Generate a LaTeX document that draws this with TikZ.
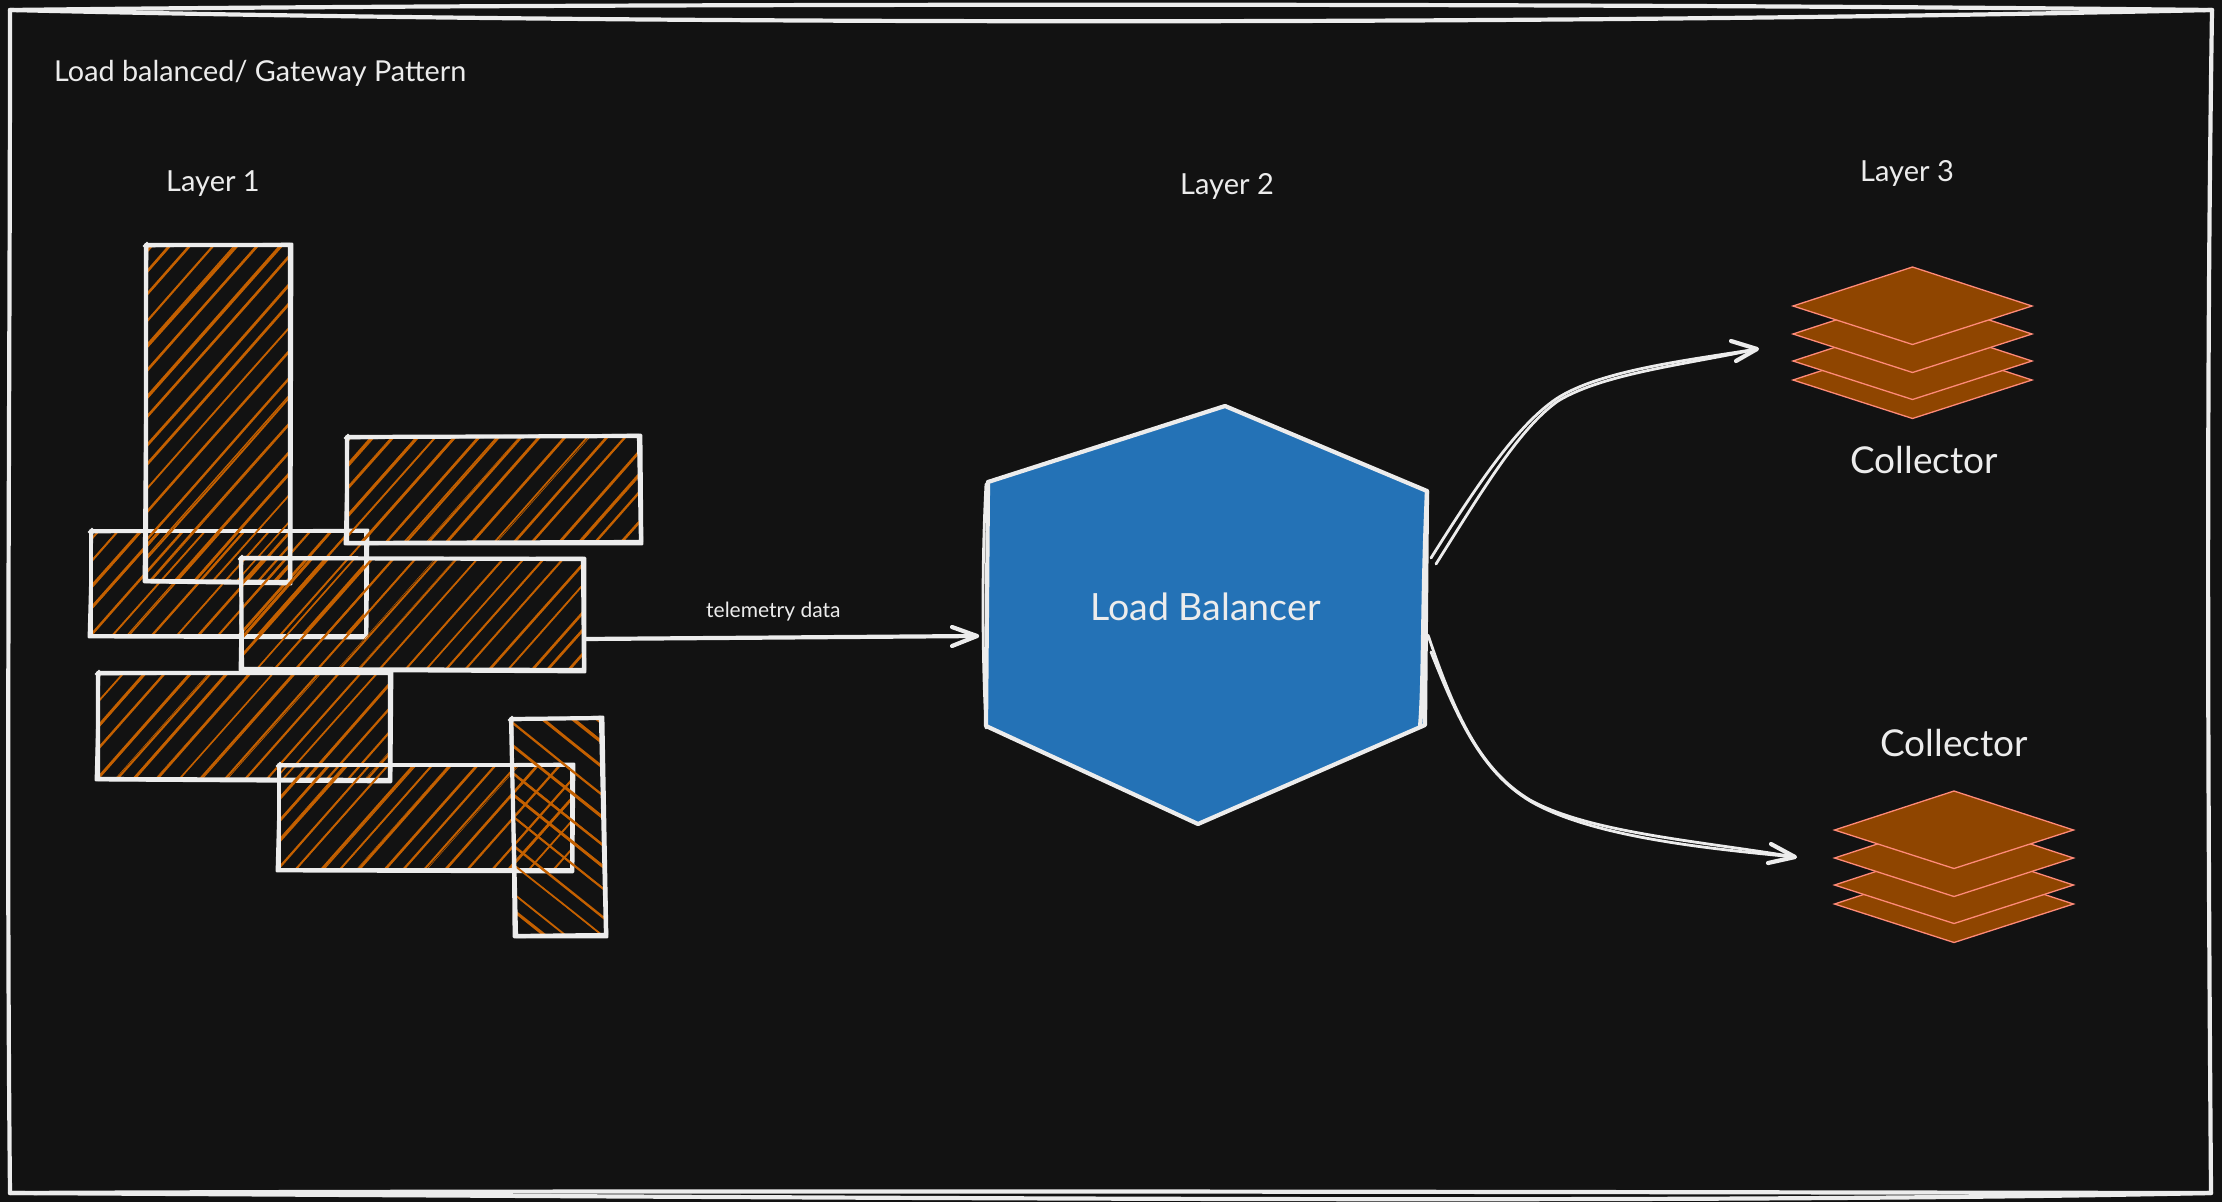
\documentclass[tikz,border=0pt]{standalone}
\usepackage{fontspec}
\setmainfont{Lato}
\definecolor{pagebg}{HTML}{121212}
\definecolor{inkc}{HTML}{ECECEC}
\definecolor{hatchc}{HTML}{C46000}
\definecolor{lbblue}{HTML}{2472B6}
\definecolor{stackfill}{HTML}{8F4500}
\definecolor{stackline}{HTML}{FF8A78}
\tikzset{
  lbl/.style={text=inkc,anchor=base west,inner sep=0pt},
  sk/.style={draw=inkc,line width=4.2pt,line join=round,line cap=round},
  skthin/.style={draw=inkc,line width=2.8pt,line join=round,line cap=round},
  stackface/.style={fill=stackfill,draw=stackline,line width=1.3pt,line join=miter},
}
\newcommand\setquad[9]{%
  \coordinate (#1-a) at (#2,#3);\coordinate (#1-b) at (#4,#5);%
  \coordinate (#1-c) at (#6,#7);\coordinate (#1-d) at (#8,#9);}
% name, xmin, ymin, xmax, ymax, dir, seed, slope
\newcommand\hatchbox[8]{%
  \begin{scope}
    \clip (#1-a) -- (#1-b) -- (#1-c) -- (#1-d) -- cycle;
    \pgfmathsetseed{#7}
    \pgfmathsetmacro\mS{#6*#8}
    \pgfmathsetmacro\cA{(#3)+min(\mS*(#2),\mS*(#4))+6}
    \pgfmathsetmacro\cB{\cA+24}
    \pgfmathsetmacro\cC{(#5)+max(\mS*(#2),\mS*(#4))}
    \foreach \cc in {\cA,\cB,...,\cC}{
      \pgfmathsetmacro\cj{\cc+4*rand}
      \pgfmathsetmacro\xa{(#2)-8}
      \pgfmathsetmacro\xb{(#4)+8}
      \pgfmathsetmacro\xp{\xa+0.35*(\xb-\xa)}
      \pgfmathsetmacro\xq{\xa+0.7*(\xb-\xa)}
      \pgfmathsetmacro\ya{\cj-\mS*\xa}
      \pgfmathsetmacro\yb{\cj-\mS*\xb}
      \pgfmathsetmacro\yp{\cj-\mS*\xp+1.5*rand}
      \pgfmathsetmacro\yq{\cj-\mS*\xq+1.5*rand}
      \pgfmathsetmacro\wa{2.2+0.8*rand}
      \draw[hatchc,line width=\wa pt] (\xa,\ya) .. controls (\xp,\yp) and (\xq,\yq) .. (\xb,\yb);
      \pgfmathsetmacro\cd{\cj+2.5*rand}
      \pgfmathsetmacro\yaa{\cd-\mS*\xa}
      \pgfmathsetmacro\ybb{\cd-\mS*\xb}
      \pgfmathsetmacro\wb{0.9+0.6*rand}
      \draw[hatchc,line width=\wb pt] (\xa,\yaa) -- (\xb,\ybb);
    }
  \end{scope}}
\newcommand\skbox[1]{%
  \draw[sk] (#1-a) -- (#1-b) -- (#1-c) -- (#1-d) -- cycle;
  \draw[skthin] ([shift={(-2,1)}]#1-a) -- ([shift={(2,-1)}]#1-b) -- ([shift={(1,2)}]#1-c) -- ([shift={(-2,1)}]#1-d) -- ([shift={(1,-2)}]#1-a);}
\newcommand\stackface[2]{\draw[stackface,shift={(#1,#2)}] (-119.5,0) -- (0,-39) -- (119.5,0) -- (0,38.5) -- cycle;}
\begin{document}
\begin{tikzpicture}[x=1pt,y=-1pt]
\fill[pagebg] (0,0) rectangle (2222,1202);
\useasboundingbox (0,0) rectangle (2222,1202);
% frame
\coordinate (fa) at (10,10);\coordinate (fb) at (2212,10);\coordinate (fc) at (2211,1193);\coordinate (fd) at (10,1193);
\draw[sk] (fa) .. controls (500,4) and (1500,2) .. (fb);
\draw[sk] (fa) .. controls (600,24) and (1500,26) .. (fb);
\draw[sk] (fb) .. controls (2206,400) and (2208,800) .. (fc);
\draw[sk] (fc) .. controls (1500,1192) and (700,1190) .. (fd);
\draw[sk] (fc) .. controls (1700,1204) and (900,1198) .. (fd);
\draw[sk] (fd) .. controls (6,800) and (10,400) .. (fa);
% layer 1 boxes
\setquad{c}{91}{531}{366}{531}{366}{636}{91}{636}
\hatchbox{c}{91}{531}{366}{636}{1}{11}{1.13}\skbox{c}
\setquad{a}{146}{245}{290}{245}{290}{582}{146}{581}
\hatchbox{a}{146}{245}{290}{583}{1}{22}{1.13}\skbox{a}
\setquad{b}{347}{437}{639}{436}{641}{542}{347}{543}
\hatchbox{b}{347}{436}{642}{544}{1}{33}{1.13}\skbox{b}
\setquad{d}{241}{558}{583}{559}{584}{670}{242}{669}
\hatchbox{d}{241}{558}{584}{671}{1}{44}{1.13}\skbox{d}
\setquad{e}{98}{673}{390}{673}{390}{780}{98}{779}
\hatchbox{e}{98}{673}{390}{782}{1}{55}{1.13}\skbox{e}
\setquad{f}{279}{765}{572}{765}{572}{870}{279}{870}
\hatchbox{f}{279}{765}{572}{870}{1}{66}{1.13}\skbox{f}
\setquad{g}{511}{719}{601}{718}{606}{935}{516}{936}
\hatchbox{g}{511}{718}{606}{936}{-1}{77}{0.8}\skbox{g}
% load balancer
\coordinate (h1) at (1225,406);\coordinate (h2) at (1427,491);\coordinate (h3) at (1425,725);
\coordinate (h4) at (1198,824);\coordinate (h5) at (986,726);\coordinate (h6) at (988,482);
\fill[lbblue] (h1) -- (h2) -- (h3) -- (h4) -- (h5) -- (h6) -- cycle;
\draw[sk] (h6) -- (h1) -- (h2) -- (h3) -- (h4) -- (h5) -- (h6);
\draw[skthin] ([shift={(-2,2)}]h6) .. controls (982,560) and (982,650) .. ([shift={(0,2)}]h5);
\draw[sk] (h2) .. controls (1422,600) and (1424,680) .. ([shift={(-5,2)}]h3);
\node[lbl,font=\fontsize{37.5}{42}\selectfont] (lbtext) at (1090,620) {Load Balancer};
% telemetry arrow
\coordinate (dout) at (584,639);\coordinate (hin) at (977,636);
\coordinate (ha) at (952,627);\coordinate (hb) at (952,646);
\draw[sk] (dout) -- (hin);
\draw[sk] (ha) -- (hin) -- (hb);
\node[lbl,font=\fontsize{21}{24}\selectfont] (tel) at (706,617) {telemetry data};
% stacks
\stackface{1912.5}{380}\stackface{1912.5}{361}\stackface{1912.5}{334}\stackface{1912.5}{306}
\stackface{1954}{904}\stackface{1954}{885}\stackface{1954}{858}\stackface{1954}{830}
% upper curve
\coordinate (u1) at (1431,558);\coordinate (u2) at (1436,564);\coordinate (ut) at (1757,349);
\coordinate (ua) at (1731,341);\coordinate (ub) at (1736,361);
\draw[skthin] (u1) .. controls (1480,480) and (1518,425) .. (1556,399) .. controls (1600,370) and (1690,360) .. (ut);
\draw[skthin] (u2) .. controls (1485,486) and (1520,428) .. (1558,401) .. controls (1604,373) and (1690,364) .. (ut);
\draw[sk] (ua) -- (ut) -- (ub);
% lower curve
\coordinate (l1) at (1428,635);\coordinate (l2) at (1431,652);\coordinate (lt) at (1795,857);
\coordinate (la) at (1771,844);\coordinate (lb) at (1768,863);
\draw[skthin] (l1) .. controls (1455,715) and (1480,770) .. (1530,800) .. controls (1590,833) and (1700,841) .. (lt);
\draw[skthin] (l2) .. controls (1458,720) and (1482,772) .. (1530,801) .. controls (1590,836) and (1700,848) .. (lt);
\draw[sk] (la) -- (lt) -- (lb);
% texts
\node[lbl,font=\fontsize{28.8}{32}\selectfont] (title) at (54,81) {Load balanced/ Gateway Pattern};
\node[lbl,font=\fontsize{29}{32}\selectfont] (la1) at (166,191) {Layer 1};
\node[lbl,font=\fontsize{29}{32}\selectfont] (la2) at (1180,194) {Layer 2};
\node[lbl,font=\fontsize{29}{32}\selectfont] (la3) at (1860,181) {Layer 3};
\node[lbl,font=\fontsize{37}{42}\selectfont] (co1) at (1850,473) {Collector};
\node[lbl,font=\fontsize{37}{42}\selectfont] (co2) at (1880,756) {Collector};
\end{tikzpicture}
\end{document}
